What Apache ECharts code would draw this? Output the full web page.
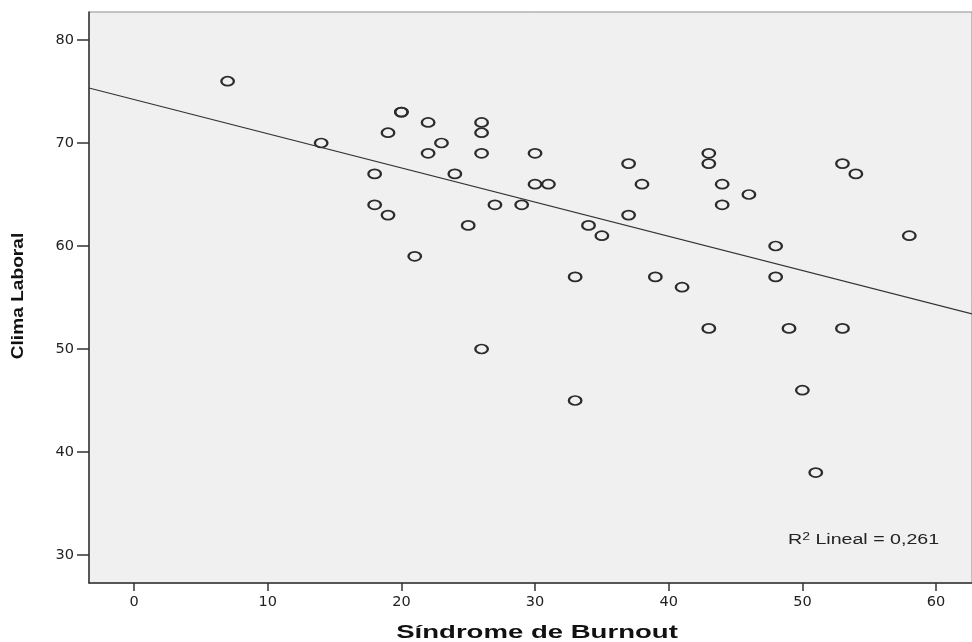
<!DOCTYPE html>
<html>
<head>
<meta charset="utf-8">
<script src="https://cdn.jsdelivr.net/npm/echarts@6/dist/echarts.min.js"></script>
<style>
  html, body { margin: 0; padding: 0; background: #fff; }
  #chart { width: 972px; height: 642px; }
</style>
</head>
<body>
<div id="chart"></div>
<script>
// puntos (Síndrome de Burnout, Clima Laboral)
var burnout = [7, 14, 18, 18, 19, 19, 20, 20, 21, 22, 22, 23, 24, 25, 26, 26, 26, 26, 27, 29, 30, 30, 31, 33, 33, 34, 35, 37, 37, 38, 39, 41, 43, 43, 43, 44, 44, 46, 48, 48, 49, 50, 51, 53, 53, 54, 58];
var clima   = [76, 70, 67, 64, 71, 63, 73, 73, 59, 72, 69, 70, 67, 62, 72, 71, 69, 50, 64, 64, 69, 66, 66, 57, 45, 62, 61, 68, 63, 66, 57, 56, 69, 68, 52, 66, 64, 65, 60, 57, 52, 46, 38, 68, 52, 67, 61];

// recta de ajuste lineal (extremos)
var fitX = [-3.37, 62.69];
var fitY = [75.34, 53.41];

var xTicks = [0, 10, 20, 30, 40, 50, 60];
var yTicks = [30, 40, 50, 60, 70, 80];

var points = burnout.map(function (x, i) { return [x, clima[i]]; });
var fitLine = fitX.map(function (x, i) { return [x, fitY[i]]; });

var myChart = echarts.init(document.getElementById('chart'));
myChart.setOption({
  backgroundColor: '#ffffff',
  animation: false,
  grid: {
    left: 89,
    right: 0,
    top: 12,
    bottom: 59,
    show: true,
    backgroundColor: '#f0f0f0',
    borderColor: '#8c8c8c',
    borderWidth: 1
  },
  xAxis: {
    type: 'value',
    min: -3.37,
    max: 62.69,
    axisLine: { onZero: false, lineStyle: { color: '#333333', width: 1.5 } },
    axisTick: { customValues: xTicks, length: 8, lineStyle: { color: '#333333', width: 1.5 } },
    axisLabel: { customValues: xTicks, margin: 12, color: '#222222', fontFamily: 'DejaVu Sans', fontSize: 14.5 },
    splitLine: { show: false }
  },
  yAxis: {
    type: 'value',
    min: 27.28,
    max: 82.72,
    axisLine: { onZero: false, lineStyle: { color: '#333333', width: 1.5 } },
    axisTick: { customValues: yTicks, length: 12, lineStyle: { color: '#333333', width: 1.5 } },
    axisLabel: { customValues: yTicks, margin: 15, color: '#222222', fontFamily: 'DejaVu Sans', fontSize: 14.5 },
    splitLine: { show: false }
  },
  series: [
    {
      type: 'line',
      data: fitLine,
      symbol: 'none',
      silent: true,
      lineStyle: { color: '#333333', width: 1.2 }
    },
    {
      type: 'scatter',
      data: points,
      symbol: 'path://M0,5A5,5 0 1,0 10,5A5,5 0 1,0 0,5Z',
      symbolSize: [12.5, 9],
      itemStyle: { color: 'rgba(0,0,0,0)', borderColor: '#2b2b2b', borderWidth: 2, opacity: 1 }
    }
  ],
  graphic: [
    {
      type: 'text',
      x: 537,
      y: 633,
      scaleX: 1.45,
      style: {
        text: 'Síndrome de Burnout',
        font: 'bold 19px "Liberation Sans"',
        fill: '#111111',
        textAlign: 'center',
        textVerticalAlign: 'middle'
      }
    },
    {
      type: 'text',
      x: 18,
      y: 296,
      rotation: Math.PI / 2,
      scaleX: 1.16,
      style: {
        text: 'Clima Laboral',
        font: 'bold 16.5px "Liberation Sans"',
        fill: '#111111',
        textAlign: 'center',
        textVerticalAlign: 'middle'
      }
    },
    {
      type: 'text',
      x: 788,
      y: 540,
      scaleX: 1.4,
      style: {
        text: '{r|R}{s|2}{r| Lineal = 0,261}',
        fill: '#222222',
        textAlign: 'left',
        textVerticalAlign: 'middle',
        rich: {
          r: { fontFamily: 'Liberation Sans', fontSize: 14, lineHeight: 16, fill: '#222222' },
          s: { fontFamily: 'Liberation Sans', fontSize: 10, lineHeight: 16, verticalAlign: 'top', fill: '#222222' }
        }
      }
    }
  ]
});
</script>
</body>
</html>
